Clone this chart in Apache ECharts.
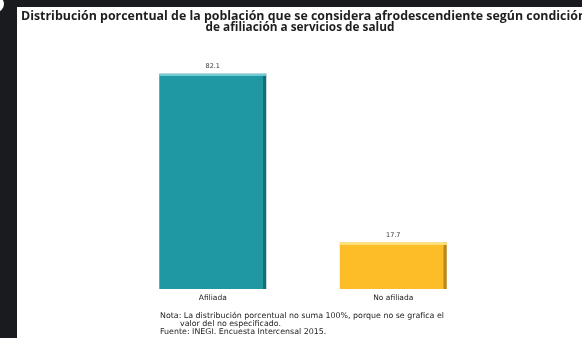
<!DOCTYPE html>
<html>
<head>
<meta charset="utf-8">
<script src="https://cdn.jsdelivr.net/npm/echarts@6/dist/echarts.min.js"></script>
<style>
  html, body { margin: 0; padding: 0; background: #1a1b1e; }
  #chart { width: 582px; height: 338px; }
</style>
</head>
<body>
<div id="chart"></div>
<script>
const categories = ['Afiliada', 'No afiliada'];
const values = [82.1, 17.7];
const titleLines = [
  'Distribución porcentual de la población que se considera afrodescendiente según condición',
  'de afiliación a servicios de salud'
];
const noteLines = [
  'Nota: La distribución porcentual no suma 100%, porque no se grafica el',
  '        valor del no especificado.',
  'Fuente: INEGI. Encuesta Intercensal 2015.'
];

// Face, bevel edge and top highlight colours for each bar
const palette = [
  { face: '#1f98a4', edge: '#136d76', top: '#72c9d0' },
  { face: '#fdbd27', edge: '#b8861b', top: '#ffe07a' }
];

const titleFont = '"Open Sans", "DejaVu Sans", sans-serif';
const bodyFont = '"DejaVu Sans", Verdana, sans-serif';

const yMax = 90;
const gridTop = 53, gridBottom = 49, chartH = 338;
const plotH = chartH - gridTop - gridBottom;

const chart = echarts.init(document.getElementById('chart'));

const barData = values.map((v, i) => ({
  value: v,
  itemStyle: {
    color: new echarts.graphic.LinearGradient(0, 0, 1, 0, [
      { offset: 0, color: palette[i].face },
      { offset: 0.965, color: palette[i].face },
      { offset: 0.975, color: palette[i].edge },
      { offset: 1, color: palette[i].edge }
    ])
  }
}));

// Thin light cap along the top of each bar (about 2px tall)
const capData = values.map((v, i) => {
  const f = Math.min(0.5, 2.5 / (v / yMax * plotH));
  return {
    value: v,
    itemStyle: {
      color: new echarts.graphic.LinearGradient(0, 0, 0, 1, [
        { offset: 0, color: palette[i].top },
        { offset: f, color: palette[i].top },
        { offset: f + 0.0001, color: 'rgba(0,0,0,0)' },
        { offset: 1, color: 'rgba(0,0,0,0)' }
      ])
    }
  };
});

chart.setOption({
  backgroundColor: '#1a1b1e',
  animation: false,
  graphic: [
    { type: 'rect', shape: { x: 17, y: 7, width: 570, height: 340 }, style: { fill: '#ffffff' }, z: -10 },
    { type: 'circle', shape: { cx: -4, cy: 4, r: 8 }, style: { fill: '#ffffff' }, z: -10 },
    {
      type: 'text', x: 21, y: 10,
      style: {
        text: titleLines[0], textAlign: 'left', textVerticalAlign: 'top',
        font: 'bold 12.4px ' + titleFont, fill: '#1e1e1e'
      }
    },
    {
      type: 'text', x: 300, y: 22,
      style: {
        text: titleLines[1], textAlign: 'center', textVerticalAlign: 'top',
        font: 'bold 11.8px ' + titleFont, fill: '#1e1e1e'
      }
    },
    {
      type: 'text', x: 160, y: 312,
      style: {
        text: noteLines.join('\n'), lineHeight: 8,
        font: '7.9px ' + bodyFont, fill: '#222222'
      }
    }
  ],
  grid: { left: 122.5, width: 361, top: gridTop, bottom: gridBottom, containLabel: false },
  xAxis: {
    type: 'category',
    data: categories,
    axisLine: { show: false },
    axisTick: { show: false },
    axisLabel: { color: '#222', fontSize: 7.5, fontFamily: bodyFont, margin: 5 }
  },
  yAxis: {
    type: 'value', min: 0, max: yMax, show: false,
    splitLine: { show: false }
  },
  series: [
    {
      type: 'bar',
      data: barData,
      barWidth: 107,
      label: {
        show: true, position: 'top', distance: 4,
        fontSize: 6.5, color: '#333', fontFamily: bodyFont,
        formatter: p => p.value.toFixed(1)
      }
    },
    {
      type: 'bar',
      data: capData,
      barWidth: 107,
      barGap: '-100%',
      silent: true
    }
  ]
});
</script>
</body>
</html>
